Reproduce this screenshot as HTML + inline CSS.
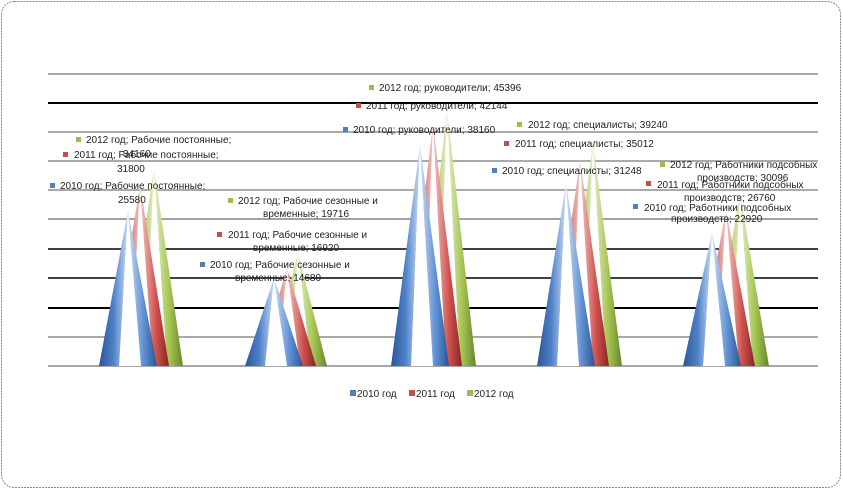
<!DOCTYPE html>
<html><head><meta charset="utf-8"><style>
html,body{margin:0;padding:0;background:#fff;}
svg{display:block;font-family:"Liberation Sans",sans-serif;}
</style></head><body>
<svg width="843" height="489" viewBox="0 0 843 489" xmlns="http://www.w3.org/2000/svg">
<defs>
<linearGradient id="bl" x1="0" x2="1"><stop offset="0" stop-color="#2a5596"/><stop offset="0.5" stop-color="#4f81c8"/><stop offset="1" stop-color="#c6dbf5"/></linearGradient>
<linearGradient id="br" x1="0" x2="1"><stop offset="0" stop-color="#c6dbf5"/><stop offset="0.55" stop-color="#5f8fd2"/><stop offset="1" stop-color="#2a5596"/></linearGradient>
<linearGradient id="rl" x1="0" x2="1"><stop offset="0" stop-color="#8e2523"/><stop offset="0.5" stop-color="#c9504c"/><stop offset="1" stop-color="#f3c6c4"/></linearGradient>
<linearGradient id="rr" x1="0" x2="1"><stop offset="0" stop-color="#f3c6c4"/><stop offset="0.55" stop-color="#d0524e"/><stop offset="1" stop-color="#8a2422"/></linearGradient>
<linearGradient id="gl" x1="0" x2="1"><stop offset="0" stop-color="#6b8a26"/><stop offset="0.5" stop-color="#9bbb4a"/><stop offset="1" stop-color="#e2efc2"/></linearGradient>
<linearGradient id="gr" x1="0" x2="1"><stop offset="0" stop-color="#e2efc2"/><stop offset="0.55" stop-color="#a3c250"/><stop offset="1" stop-color="#67852a"/></linearGradient>
</defs>
<rect x="1.5" y="1.5" width="839" height="486" rx="13" fill="#fff" stroke="#888" stroke-width="1" stroke-dasharray="2,1"/>
<g stroke="#000">
<line x1="48" x2="818" y1="74" y2="74" stroke="#888" stroke-width="1.5"/>
<line x1="48" x2="818" y1="103" y2="103" stroke-width="2"/>
<line x1="48" x2="818" y1="132" y2="132" stroke="#555" stroke-width="1"/>
<line x1="48" x2="818" y1="161" y2="161" stroke="#555" stroke-width="1"/>
<line x1="48" x2="818" y1="190" y2="190" stroke="#555" stroke-width="1"/>
<line x1="48" x2="818" y1="219" y2="219" stroke="#444" stroke-width="1"/>
<line x1="48" x2="818" y1="249" y2="249" stroke-width="1.5"/>
<line x1="48" x2="818" y1="278" y2="278" stroke-width="1.5"/>
<line x1="48" x2="818" y1="308" y2="308" stroke-width="2"/>
<line x1="48" x2="818" y1="337" y2="337" stroke="#555" stroke-width="1"/>
<line x1="48" x2="818" y1="366" y2="366" stroke="#888" stroke-width="1.5"/>
</g>
<g>
<!-- group 1 -->
<polygon points="154,168 125,366 145,366" fill="url(#gl)"/><polygon points="154,168 145,366 167,366" fill="#fff"/><polygon points="154,168 167,366 183,366" fill="url(#gr)"/>
<polygon points="140,185 111,366 131,366" fill="url(#rl)"/><polygon points="140,185 131,366 153,366" fill="#fff"/><polygon points="140,185 153,366 169,366" fill="url(#rr)"/>
<polygon points="128,211 99,366 119,366" fill="url(#bl)"/><polygon points="128,211 119,366 141,366" fill="#fff"/><polygon points="128,211 141,366 157,366" fill="url(#br)"/>
<!-- group 2 -->
<polygon points="298,253 269,366 289,366" fill="url(#gl)"/><polygon points="298,253 289,366 311,366" fill="#fff"/><polygon points="298,253 311,366 327,366" fill="url(#gr)"/>
<polygon points="287,268 258,366 278,366" fill="url(#rl)"/><polygon points="287,268 278,366 300,366" fill="#fff"/><polygon points="287,268 300,366 316,366" fill="url(#rr)"/>
<polygon points="274,278 245,366 265,366" fill="url(#bl)"/><polygon points="274,278 265,366 287,366" fill="#fff"/><polygon points="274,278 287,366 303,366" fill="url(#br)"/>
<!-- group 3 -->
<polygon points="447,110 418,366 438,366" fill="url(#gl)"/><polygon points="447,110 438,366 460,366" fill="#fff"/><polygon points="447,110 460,366 476,366" fill="url(#gr)"/>
<polygon points="433,124 404,366 424,366" fill="url(#rl)"/><polygon points="433,124 424,366 446,366" fill="#fff"/><polygon points="433,124 446,366 462,366" fill="url(#rr)"/>
<polygon points="420,145 391,366 411,366" fill="url(#bl)"/><polygon points="420,145 411,366 433,366" fill="#fff"/><polygon points="420,145 433,366 449,366" fill="url(#br)"/>
<!-- group 4 -->
<polygon points="593,143 564,366 584,366" fill="url(#gl)"/><polygon points="593,143 584,366 606,366" fill="#fff"/><polygon points="593,143 606,366 622,366" fill="url(#gr)"/>
<polygon points="580,160 551,366 571,366" fill="url(#rl)"/><polygon points="580,160 571,366 593,366" fill="#fff"/><polygon points="580,160 593,366 609,366" fill="url(#rr)"/>
<polygon points="566,184 537,366 557,366" fill="url(#bl)"/><polygon points="566,184 557,366 579,366" fill="#fff"/><polygon points="566,184 579,366 595,366" fill="url(#br)"/>
<!-- group 5 -->
<polygon points="740,193 711,366 731,366" fill="url(#gl)"/><polygon points="740,193 731,366 753,366" fill="#fff"/><polygon points="740,193 753,366 769,366" fill="url(#gr)"/>
<polygon points="726,210 697,366 717,366" fill="url(#rl)"/><polygon points="726,210 717,366 739,366" fill="#fff"/><polygon points="726,210 739,366 755,366" fill="url(#rr)"/>
<polygon points="712,233 683,366 703,366" fill="url(#bl)"/><polygon points="712,233 703,366 725,366" fill="#fff"/><polygon points="712,233 725,366 741,366" fill="url(#br)"/>
</g>
<g font-size="10" fill="#222">
<rect x="76" y="137" width="5" height="5" fill="#9bbb59"/><text x="86" y="143">2012 год; Рабочие постоянные;</text>
<rect x="63" y="152" width="5" height="5" fill="#c0504d"/><text x="74" y="158">2011 год; Рабочие постоянные;</text>
<text x="123" y="157">34160</text>
<text x="117" y="172">31800</text>
<rect x="50" y="183" width="5" height="5" fill="#4f81bd"/><text x="60" y="189">2010 год; Рабочие постоянные;</text>
<text x="118" y="203">25580</text>
<rect x="228" y="198" width="5" height="5" fill="#9bbb59"/><text x="238" y="204">2012 год; Рабочие сезонные и</text>
<text x="263" y="217">временные; 19716</text>
<rect x="217" y="232" width="5" height="5" fill="#c0504d"/><text x="228" y="238">2011 год; Рабочие сезонные и</text>
<text x="253" y="251">временные; 16920</text>
<rect x="200" y="262" width="5" height="5" fill="#4f81bd"/><text x="210" y="268">2010 год; Рабочие сезонные и</text>
<text x="235" y="281">временные; 14680</text>
<rect x="369" y="85" width="5" height="5" fill="#9bbb59"/><text x="379" y="91">2012 год; руководители; 45396</text>
<rect x="356" y="103" width="5" height="5" fill="#c0504d"/><text x="366" y="109">2011 год; руководители; 42144</text>
<rect x="343" y="127" width="5" height="5" fill="#4f81bd"/><text x="353" y="133">2010 год; руководители; 38160</text>
<rect x="517" y="122" width="5" height="5" fill="#9bbb59"/><text x="528" y="128">2012 год; специалисты; 39240</text>
<rect x="504" y="141" width="5" height="5" fill="#c0504d"/><text x="515" y="147">2011 год; специалисты; 35012</text>
<rect x="492" y="168" width="5" height="5" fill="#4f81bd"/><text x="502" y="174">2010 год; специалисты; 31248</text>
<rect x="660" y="162" width="5" height="5" fill="#9bbb59"/><text x="670" y="168">2012 год; Работники подсобных</text>
<text x="697" y="181">производств; 30096</text>
<rect x="646" y="181" width="5" height="5" fill="#c0504d"/><text x="657" y="188">2011 год; Работники подсобных</text>
<text x="684" y="201">производств; 26760</text>
<rect x="633" y="204" width="5" height="5" fill="#4f81bd"/><text x="644" y="211">2010 год; Работники подсобных</text>
<text x="671" y="222">производств; 22920</text>
</g>
<g font-size="10" fill="#222">
<rect x="350" y="390" width="6" height="6" fill="#4f81bd"/><text x="357" y="397">2010 год</text>
<rect x="409" y="390" width="6" height="6" fill="#c0504d"/><text x="416" y="397">2011 год</text>
<rect x="467" y="390" width="6" height="6" fill="#9bbb59"/><text x="474" y="397">2012 год</text>
</g>
</svg>
</body></html>
